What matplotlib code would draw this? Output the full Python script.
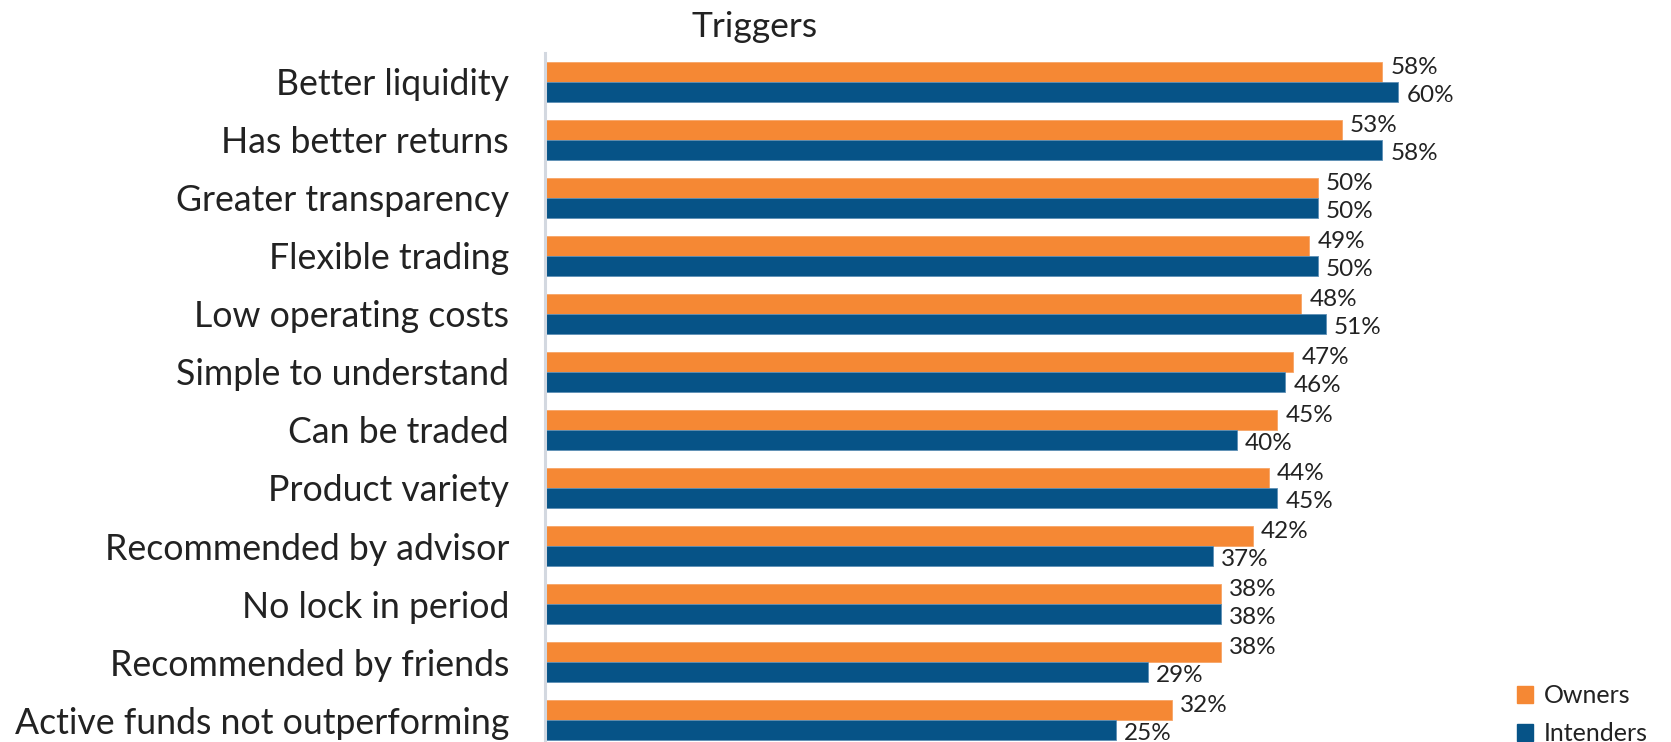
import numpy as np
import matplotlib
matplotlib.use("Agg")
import matplotlib.pyplot as plt
from matplotlib.patches import Patch

plt.rcParams['font.family'] = ['Lato', 'DejaVu Sans']

categories = ["Better liquidity", "Has better returns", "Greater transparency",
              "Flexible trading", "Low operating costs", "Simple to understand",
              "Can be traded", "Product variety", "Recommended by advisor",
              "No lock in period", "Recommended by friends",
              "Active funds not outperforming"]
owners = [58, 53, 50, 49, 48, 47, 45, 44, 42, 38, 38, 32]
intenders = [60, 58, 50, 50, 51, 46, 40, 45, 37, 38, 29, 25]

orange = "#F58834"
blue = "#065387"
txt = "#222222"

# value axis does not start at zero
base = -45.6

W, H = 1671, 742
fig = plt.figure(figsize=(W / 100, H / 100), dpi=100)
ax = fig.add_axes([545 / W, 0, (1560 - 545) / W, 1 - 53 / H])

y = np.arange(len(categories))
h = 0.345
own = np.array(owners, float)
itd = np.array(intenders, float)
ax.barh(y - h / 2, own - base, left=base, height=h, color=orange,
        edgecolor="#f7a566", linewidth=0.6)
ax.barh(y + h / 2, itd - base, left=base, height=h, color=blue,
        edgecolor="#5d8fb5", linewidth=0.6)

for i in range(len(categories)):
    ax.text(owners[i] + 1.0, y[i] - h / 2 - 0.08, f"{owners[i]}%",
            va="center", ha="left", fontsize=17.5, color=txt)
    ax.text(intenders[i] + 1.0, y[i] + h / 2 + 0.06, f"{intenders[i]}%",
            va="center", ha="left", fontsize=17.5, color=txt)

ax.set_xlim(base, 80)
ax.set_ylim((742 - 82) / 58, -0.5)
ax.set_yticks(y)
ax.set_yticklabels(categories, fontsize=25.7, color=txt)
ax.tick_params(axis="y", length=0, pad=26)
ax.set_xticks([])
for s in ["top", "right", "bottom"]:
    ax.spines[s].set_visible(False)
ax.spines["left"].set_color("#d3d8e0")
ax.spines["left"].set_linewidth(2.2)

fig.text(755 / W, 1 - 27 / H, "Triggers", ha="center", va="center",
         fontsize=25.5, color=txt)

handles = [Patch(color=orange, label="Owners"), Patch(color=blue, label="Intenders")]
fig.legend(handles=handles, loc="lower left", bbox_to_anchor=(1494 / W, -0.035),
           frameon=False, fontsize=18, handlelength=0.65, handleheight=0.65,
           handletextpad=0.45, labelspacing=0.6, labelcolor=txt)

fig.savefig("out.png", dpi=100)
